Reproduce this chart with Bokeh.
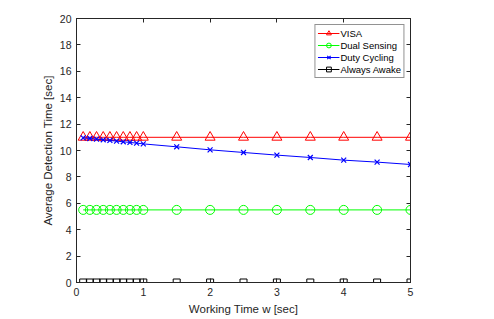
from bokeh.plotting import figure
from bokeh.models import LinearAxis, FixedTicker, Range1d
from bokeh.embed import file_html
from bokeh.resources import INLINE

w = [0.1, 0.2, 0.3, 0.4, 0.5, 0.6, 0.7, 0.8, 0.9, 1.0, 1.5, 2.0, 2.5, 3.0, 3.5, 4.0, 4.5, 5.0]
visa = [11.0] * 18
dual_sensing = [5.5] * 18
duty_cycling = [10.96, 10.91, 10.86, 10.81, 10.76, 10.71, 10.66, 10.61, 10.56, 10.5,
                10.28, 10.05, 9.85, 9.65, 9.47, 9.27, 9.12, 8.94]
always_awake = [0.0] * 18
x_ticks = [0, 1, 2, 3, 4, 5]
y_ticks = [0, 2, 4, 6, 8, 10, 12, 14, 16, 18, 20]

FONT = "Liberation Sans"
DARK = "#262626"

p = figure(frame_width=334, frame_height=264, output_backend="svg", toolbar_location=None,
           x_range=Range1d(0, 5), y_range=Range1d(0, 20),
           min_border_left=76, min_border_right=68, min_border_top=18, min_border_bottom=30)
p.xgrid.visible = False
p.ygrid.visible = False
p.outline_line_color = DARK
p.outline_line_width = 1

for ax in (p.xaxis[0], p.yaxis[0]):
    ax.major_tick_in = 4
    ax.major_tick_out = 0
    ax.minor_tick_in = 0
    ax.minor_tick_out = 0
    ax.axis_line_color = DARK
    ax.major_tick_line_color = DARK
    ax.major_label_text_font = FONT
    ax.major_label_text_font_size = "10.5px"
    ax.major_label_text_color = DARK
    ax.axis_label_text_font = FONT
    ax.axis_label_text_font_size = "11.5px"
    ax.axis_label_text_font_style = "normal"
    ax.axis_label_text_color = DARK

p.xaxis[0].ticker = FixedTicker(ticks=x_ticks)
p.yaxis[0].ticker = FixedTicker(ticks=y_ticks)
p.xaxis[0].axis_label = "Working Time w [sec]"
p.yaxis[0].axis_label = "Average Detection Time [sec]"
p.xaxis[0].major_label_standoff = 5
p.xaxis[0].axis_label_standoff = 4
p.yaxis[0].major_label_standoff = 5
p.yaxis[0].axis_label_standoff = 3

for loc, ticks in (("above", x_ticks), ("right", y_ticks)):
    a = LinearAxis(ticker=FixedTicker(ticks=ticks))
    a.major_tick_in = 4
    a.major_tick_out = 0
    a.minor_tick_in = 0
    a.minor_tick_out = 0
    a.major_label_overrides = {t: "" for t in ticks}
    a.major_label_standoff = 0
    a.axis_line_color = DARK
    a.major_tick_line_color = DARK
    p.add_layout(a, loc)

red = "#ff0000"
green = "#00ff00"
blue = "#0000ff"
black = "#000000"

p.line(w, visa, color=red, line_width=1, legend_label="VISA")
p.scatter(w, visa, marker="triangle", size=10, line_color=red, fill_color=None,
          line_width=1, legend_label="VISA")
p.line(w, dual_sensing, color=green, line_width=1, legend_label="Dual Sensing")
p.scatter(w, dual_sensing, marker="circle", size=9, line_color=green, fill_color=None,
          line_width=1, legend_label="Dual Sensing")
p.line(w, duty_cycling, color=blue, line_width=1, legend_label="Duty Cycling")
p.scatter(w, duty_cycling, marker="x", size=7, line_color=blue,
          line_width=1.2, legend_label="Duty Cycling")
p.line(w, always_awake, color=black, line_width=1, legend_label="Always Awake")
p.scatter(w, always_awake, marker="square", size=7, line_color=black, fill_color=None,
          line_width=1, legend_label="Always Awake")

lg = p.legend[0]
lg.location = "top_right"
lg.margin = 6
lg.padding = 2
lg.spacing = 0
lg.glyph_width = 22
lg.glyph_height = 12
lg.label_height = 12
lg.label_standoff = 1
lg.label_text_font = FONT
lg.label_text_font_size = "9.5px"
lg.label_text_color = "#000000"
lg.border_line_color = DARK
lg.border_line_width = 1
lg.background_fill_color = "white"
lg.background_fill_alpha = 1

open("out.html", "w").write(file_html(p, INLINE))
